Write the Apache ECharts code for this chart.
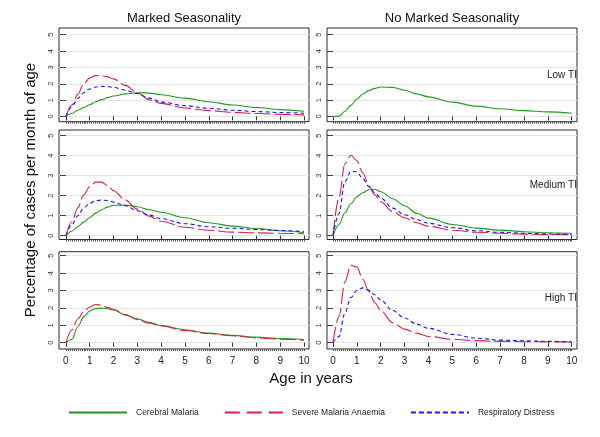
<!DOCTYPE html>
<html>
<head>
<meta charset="utf-8">
<script src="https://cdn.jsdelivr.net/npm/echarts@6/dist/echarts.min.js"></script>
<style>html,body{margin:0;padding:0;background:#fff}#c{width:600px;height:437px}</style>
</head>
<body>
<div id="c"></div>
<script>
// ---- data ----
const ages = [0, 0.25, 0.5, 0.75, 1, 1.25, 1.5, 1.75, 2, 2.5, 3, 3.5, 4, 5, 6, 7, 8, 9, 10];
const xTickLabels = [0, 1, 2, 3, 4, 5, 6, 7, 8, 9, 10];
const yTickLabels = [0, 1, 2, 3, 4, 5];
const columnTitles = ['Marked Seasonality', 'No Marked Seasonality'];
const rowLabels = ['Low TI', 'Medium TI', 'High TI'];
const seriesNames = ['Cerebral Malaria', 'Severe Malaria Anaemia', 'Respiratory Distress'];

// Marked seasonality
const cmMarkedLow   = [0, 0.18, 0.38, 0.55, 0.72, 0.9, 1.03, 1.15, 1.25, 1.38, 1.45, 1.43, 1.33, 1.12, 0.9, 0.7, 0.55, 0.42, 0.32];
const smaMarkedLow  = [0, 0.7, 1.35, 2.0, 2.35, 2.5, 2.5, 2.42, 2.3, 1.9, 1.45, 1.02, 0.8, 0.52, 0.36, 0.25, 0.18, 0.13, 0.1];
const rdMarkedLow   = [0, 0.6, 1.1, 1.45, 1.68, 1.8, 1.85, 1.83, 1.78, 1.6, 1.4, 1.12, 0.88, 0.66, 0.5, 0.38, 0.3, 0.24, 0.2];
const cmMarkedMed   = [0, 0.22, 0.45, 0.68, 0.9, 1.13, 1.3, 1.43, 1.52, 1.53, 1.45, 1.3, 1.17, 0.9, 0.65, 0.48, 0.36, 0.25, 0.15];
const smaMarkedMed  = [0, 0.7, 1.4, 2.05, 2.45, 2.68, 2.68, 2.5, 2.25, 1.78, 1.33, 0.98, 0.72, 0.42, 0.27, 0.18, 0.14, 0.12, 0.1];
const rdMarkedMed   = [0, 0.55, 1.0, 1.4, 1.62, 1.75, 1.78, 1.76, 1.68, 1.5, 1.25, 1.03, 0.85, 0.6, 0.45, 0.37, 0.31, 0.26, 0.2];
const cmMarkedHigh  = [0, 0.2, 0.92, 1.5, 1.82, 1.96, 1.99, 1.95, 1.88, 1.6, 1.37, 1.17, 0.99, 0.75, 0.55, 0.42, 0.32, 0.24, 0.18];
const smaMarkedHigh = [0, 0.73, 1.38, 1.78, 2.05, 2.2, 2.15, 2.02, 1.92, 1.6, 1.33, 1.12, 0.97, 0.7, 0.53, 0.4, 0.28, 0.2, 0.15];

// No marked seasonality
const cmNoLow   = [0, 0.02, 0.3, 0.68, 1.05, 1.37, 1.58, 1.72, 1.8, 1.78, 1.6, 1.38, 1.2, 0.88, 0.63, 0.47, 0.36, 0.28, 0.2];
const cmNoMed   = [0, 0.55, 1.15, 1.6, 1.95, 2.15, 2.3, 2.32, 2.2, 1.85, 1.5, 1.12, 0.88, 0.56, 0.38, 0.28, 0.2, 0.15, 0.12];
const smaNoMed  = [0, 1.9, 3.6, 4.02, 3.75, 3.15, 2.5, 2.05, 1.7, 1.2, 0.9, 0.65, 0.47, 0.27, 0.17, 0.12, 0.08, 0.06, 0.05];
const rdNoMed   = [0, 1.1, 2.7, 3.22, 3.2, 2.85, 2.45, 2.15, 1.88, 1.38, 1.05, 0.8, 0.62, 0.4, 0.25, 0.17, 0.12, 0.09, 0.07];
const smaNoHigh = [0, 1.5, 3.5, 4.45, 4.35, 3.65, 2.95, 2.3, 1.85, 1.15, 0.78, 0.55, 0.36, 0.2, 0.12, 0.08, 0.06, 0.05, 0.04];
const rdNoHigh  = [0, 0.35, 1.7, 2.6, 3.0, 3.15, 3.02, 2.76, 2.45, 1.85, 1.42, 1.07, 0.83, 0.48, 0.26, 0.15, 0.11, 0.08, 0.05];

// ---- layout / style ----
const FONT = "'Liberation Sans', Arial, sans-serif";
const colors = { 'Cerebral Malaria': '#1f9a1f', 'Severe Malaria Anaemia': '#dc1e4a', 'Respiratory Distress': '#1414ff' };
const dashes = { 'Cerebral Malaria': 'solid', 'Severe Malaria Anaemia': [16, 4], 'Respiratory Distress': [4, 3] };
const legendDashes = { 'Cerebral Malaria': 'solid', 'Severe Malaria Anaemia': [15, 7], 'Respiratory Distress': [5, 3] };
const cols = [
  { left: 59, width: 250, min: -0.29, max: 10.21, cx: 184 },
  { left: 327, width: 250, min: -0.25, max: 10.22, cx: 452 }
];
const rows = [
  { top: 28, height: 93.7, min: -0.32, max: 5.41, labelY: 75 },
  { top: 130, height: 109.5, min: -0.19, max: 5.285, labelY: 185 },
  { top: 251.7, height: 97.3, min: -0.36, max: 5.23, labelY: 298 }
];
const panels = [
  { c: 0, r: 0, lines: [[seriesNames[0], cmMarkedLow], [seriesNames[1], smaMarkedLow], [seriesNames[2], rdMarkedLow]] },
  { c: 1, r: 0, lines: [[seriesNames[0], cmNoLow]] },
  { c: 0, r: 1, lines: [[seriesNames[0], cmMarkedMed], [seriesNames[1], smaMarkedMed], [seriesNames[2], rdMarkedMed]] },
  { c: 1, r: 1, lines: [[seriesNames[0], cmNoMed], [seriesNames[1], smaNoMed], [seriesNames[2], rdNoMed]] },
  { c: 0, r: 2, lines: [[seriesNames[0], cmMarkedHigh], [seriesNames[1], smaMarkedHigh]] },
  { c: 1, r: 2, lines: [[seriesNames[1], smaNoHigh], [seriesNames[2], rdNoHigh]] }
];
const minorTicks = [];
for (let k = 0; k <= 120; k++) minorTicks.push(k / 12);

const grid = [], xAxis = [], yAxis = [], series = [];
panels.forEach((p, i) => {
  const c = cols[p.c], r = rows[p.r];
  grid.push({ left: c.left, top: r.top, width: c.width, height: r.height, show: true,
    borderColor: '#2a2a2a', borderWidth: 1, backgroundColor: '#fff', containLabel: false });
  xAxis.push({ type: 'value', gridIndex: i, min: c.min, max: c.max, position: 'bottom',
    axisLine: { show: false }, splitLine: { show: false },
    axisTick: { show: true, length: 4, customValues: xTickLabels, lineStyle: { color: '#333' } },
    axisLabel: { show: p.r === 2, customValues: xTickLabels, fontSize: 10, color: '#222', margin: 7, fontFamily: FONT } });
  xAxis.push({ type: 'value', gridIndex: i, min: c.min, max: c.max, position: 'bottom', offset: 0,
    axisLine: { show: false }, splitLine: { show: false },
    axisTick: { show: true, length: 2, customValues: minorTicks, lineStyle: { color: '#555' } },
    axisLabel: { show: false } });
  yAxis.push({ type: 'value', gridIndex: i, min: r.min, max: r.max,
    axisLine: { show: false },
    axisTick: { show: true, length: 6, customValues: yTickLabels, lineStyle: { color: '#444' } },
    axisLabel: { show: true, customValues: yTickLabels, rotate: 90, fontSize: 7.5, color: '#333', margin: 4, fontFamily: FONT },
    splitLine: { show: true, lineStyle: { color: '#e4e4e4', width: 1 } } });
  p.lines.forEach(([name, vals]) => {
    series.push({ type: 'line', name, xAxisIndex: 2 * i, yAxisIndex: i,
      data: ages.map((a, k) => [a, vals[k]]),
      smooth: 0.35, smoothMonotone: 'x', symbol: 'none', silent: true,
      lineStyle: { color: colors[name], width: 1.1, type: dashes[name] },
      itemStyle: { color: colors[name] } });
  });
});

const graphic = [];
columnTitles.forEach((t, i) => graphic.push({ type: 'text', x: cols[i].cx, y: 18,
  style: { text: t, font: "13px " + FONT, fill: '#111', textAlign: 'center', textVerticalAlign: 'middle' } }));
rowLabels.forEach((t, i) => graphic.push({ type: 'text', x: 577, y: rows[i].labelY,
  style: { text: t, font: "10px " + FONT, fill: '#222', textAlign: 'right', textVerticalAlign: 'middle' } }));
graphic.push({ type: 'text', x: 311, y: 379,
  style: { text: 'Age in years', font: "15px " + FONT, fill: '#111', textAlign: 'center', textVerticalAlign: 'middle' } });
graphic.push({ type: 'text', x: 31, y: 190, rotation: Math.PI / 2,
  style: { text: 'Percentage of cases per month of age', font: "15px " + FONT, fill: '#111', textAlign: 'center', textVerticalAlign: 'middle' } });

const option = {
  animation: false,
  backgroundColor: '#fff',
  textStyle: { fontFamily: FONT },
  grid, xAxis, yAxis, series, graphic,
  legend: {
    left: 63, top: 403, itemWidth: 58, itemHeight: 10, itemGap: 25, selectedMode: false,
    textStyle: { fontSize: 8.5, color: '#222', padding: [0, 0, 0, 4], fontFamily: FONT },
    data: seriesNames.map(n => ({ name: n,
      itemStyle: { opacity: 0, borderWidth: 0 },
      lineStyle: { width: 2, color: colors[n], type: legendDashes[n] } }))
  }
};
const chart = echarts.init(document.getElementById('c'), null, { renderer: 'canvas' });
chart.setOption(option);
</script>
</body>
</html>
